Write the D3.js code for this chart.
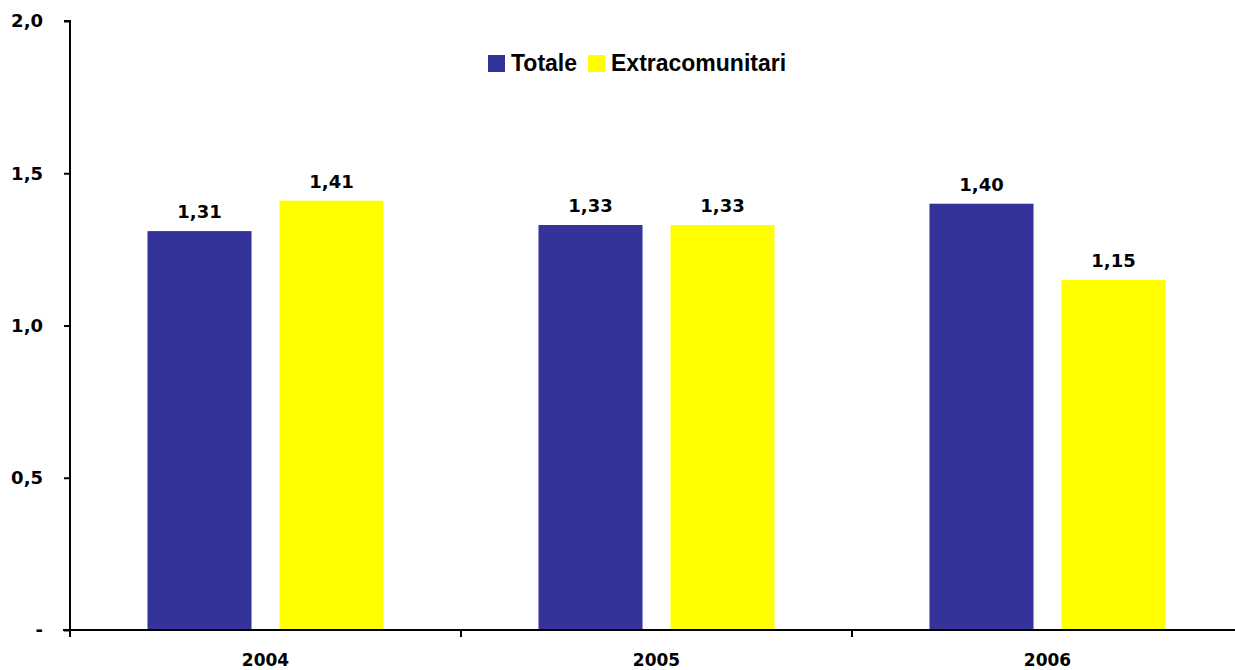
<!DOCTYPE html>
<html>
<head>
<meta charset="utf-8">
<script src="https://cdn.jsdelivr.net/npm/d3@7"></script>
<style>
  body { margin: 0; background: #fff; }
  svg { display: block; }
  .lbl { font-family: "DejaVu Sans", Verdana, sans-serif; font-weight: bold; font-size: 18px; fill: #000; }
  .xl { font-family: "DejaVu Sans", Verdana, sans-serif; font-weight: bold; font-size: 17px; fill: #000; }
  .leg { font-family: "Liberation Sans Narrow", "Arial Narrow", "Liberation Sans", sans-serif; font-weight: bold; font-size: 23px; fill: #000; }
</style>
</head>
<body>
<div id="chart"></div>
<script>
// data
var years = ["2004", "2005", "2006"];
var series = ["Totale", "Extracomunitari"];
var totale = [1.31, 1.33, 1.40];
var extracomunitari = [1.41, 1.33, 1.15];
var yTicks = [0, 0.5, 1.0, 1.5, 2.0];
var colors = ["#333399", "#ffff00"];

var W = 1235, H = 670;
var mLeft = 70, mTop = 21, mBottom = 630, step = 391;

var svg = d3.select("#chart").append("svg").attr("width", W).attr("height", H);

var x0 = d3.scaleBand().domain(years).range([mLeft, mLeft + step * years.length]);
var x1 = d3.scaleBand().domain(series).range([0, x0.bandwidth()]).paddingInner(0.212).paddingOuter(0.587);
var y = d3.scaleLinear().domain([0, 2]).range([mBottom, mTop]);

var fmt = function(v) { return v === 0 ? "-" : d3.format(".1f")(v).replace(".", ","); };
var fmt2 = function(v) { return d3.format(".2f")(v).replace(".", ","); };

var rows = years.map(function(yr, i) {
  return { year: yr, values: [ { s: series[0], v: totale[i] }, { s: series[1], v: extracomunitari[i] } ] };
});

// bars
var grp = svg.append("g").selectAll("g").data(rows).enter().append("g")
  .attr("transform", function(d) { return "translate(" + x0(d.year) + ",0)"; });
grp.selectAll("rect").data(function(d) { return d.values; }).enter().append("rect")
  .attr("x", function(d) { return x1(d.s); })
  .attr("y", function(d) { return y(d.v); })
  .attr("width", x1.bandwidth())
  .attr("height", function(d) { return y(0) - y(d.v); })
  .attr("fill", function(d, i) { return colors[i]; });
grp.selectAll("text").data(function(d) { return d.values; }).enter().append("text")
  .attr("class", "lbl")
  .attr("x", function(d) { return x1(d.s) + x1.bandwidth() / 2; })
  .attr("y", function(d) { return y(d.v) - 13; })
  .attr("text-anchor", "middle")
  .text(function(d) { return fmt2(d.v); });

// y axis
var yAxis = d3.axisLeft(y).tickValues(yTicks).tickSize(6).tickPadding(21).tickFormat(fmt);
var ya = svg.append("g").attr("transform", "translate(" + mLeft + ",0)").call(yAxis);
ya.select(".domain").attr("stroke", "#000").attr("stroke-width", 2).attr("d", "M-6," + mTop + "H0V" + mBottom);
ya.selectAll(".tick line").attr("stroke", "#000").attr("stroke-width", 2);
ya.selectAll(".tick text").attr("class", "lbl").attr("font-family", null).attr("font-size", null);

// x axis
var xa = svg.append("g").attr("transform", "translate(0," + mBottom + ")")
  .call(d3.axisBottom(x0).tickSize(0).tickPadding(24));
xa.select(".domain").attr("stroke", "#000").attr("stroke-width", 2)
  .attr("d", "M" + (mLeft - 7) + ",0H" + (mLeft + step * years.length));
xa.selectAll(".tick text").attr("class", "xl").attr("font-family", null).attr("font-size", null);
xa.append("g").selectAll("line").data(d3.range(years.length + 1)).enter().append("line")
  .attr("x1", function(i) { return mLeft + i * step; })
  .attr("x2", function(i) { return mLeft + i * step; })
  .attr("y1", 0).attr("y2", 7)
  .attr("stroke", "#000").attr("stroke-width", 2);

// legend
var legX = [488, 588];
var leg = svg.append("g").selectAll("g").data(series).enter().append("g")
  .attr("transform", function(d, i) { return "translate(" + legX[i] + ",55)"; });
leg.append("rect").attr("width", 17).attr("height", 17).attr("fill", function(d, i) { return colors[i]; });
leg.append("text").attr("class", "leg").attr("x", 23).attr("y", 16).text(function(d) { return d; });
</script>
</body>
</html>
